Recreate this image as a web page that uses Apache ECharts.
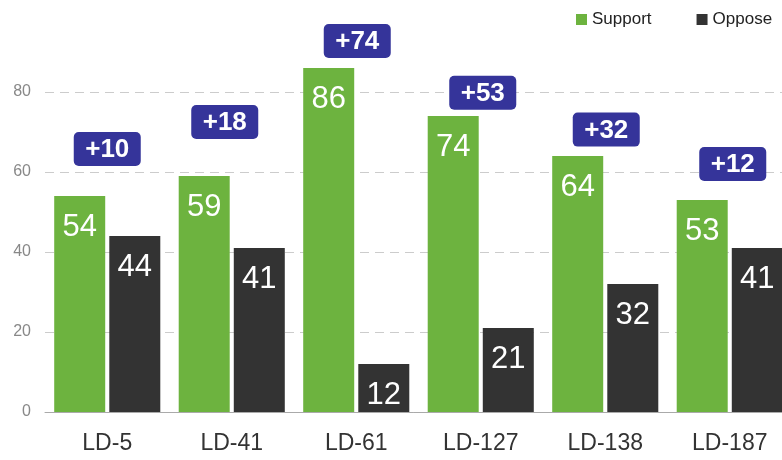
<!DOCTYPE html>
<html>
<head>
<meta charset="utf-8">
<script src="https://cdn.jsdelivr.net/npm/echarts@6/dist/echarts.min.js"></script>
<style>
  html, body { margin: 0; padding: 0; background: #fff; }
  #chart { width: 782px; height: 460px; }
</style>
</head>
<body>
<div id="chart"></div>
<script>
var districts = ['LD-5', 'LD-41', 'LD-61', 'LD-127', 'LD-138', 'LD-187'];
var supportVals = [54, 59, 86, 74, 64, 53];
var opposeVals = [44, 41, 12, 21, 32, 41];
// height (in axis units) at which each margin badge sits
var badgeLevels = [65.75, 72.5, 92.75, 79.8, 70.6, 62];
var yTicks = [0, 20, 40, 60, 80];

var font = 'Liberation Sans, Arial, sans-serif';
var badgeNudge = [0, -7, 1, 2, 1, 3];

var chart = echarts.init(document.getElementById('chart'));

var badgeData = badgeLevels.map(function (v, i) {
  return [i, v];
});

var option = {
  animation: false,
  color: ['#6db33f', '#333333'],
  textStyle: { fontFamily: font },
  legend: {
    left: 571,
    top: 6,
    itemWidth: 11,
    itemHeight: 11,
    itemGap: 45,
    icon: 'rect',
    textStyle: { fontSize: 17, color: '#222', fontFamily: font },
    data: ['Support', 'Oppose']
  },
  grid: {
    left: 45,
    right: -10,
    top: 12,
    bottom: 48,
    outerBoundsMode: 'none',
    containLabel: false
  },
  xAxis: {
    type: 'category',
    data: districts,
    axisLine: { lineStyle: { color: '#aaa' } },
    axisTick: { length: 6, lineStyle: { color: '#aaa' } },
    axisLabel: { fontSize: 23, color: '#333', margin: 20, fontFamily: font }
  },
  yAxis: {
    type: 'value',
    min: 0,
    max: 100,
    interval: 20,
    axisLine: { show: false },
    axisTick: { show: false },
    axisLabel: {
      fontSize: 16,
      color: '#888',
      margin: 14,
      fontFamily: font,
      formatter: function (v) {
        return yTicks.indexOf(v) >= 0 ? String(v) : '';
      }
    },
    splitLine: {
      lineStyle: {
        type: [9, 6],
        color: ['#ccc', '#ccc', '#ccc', '#ccc', '#ccc', 'transparent']
      }
    }
  },
  series: [
    {
      name: 'Support',
      type: 'bar',
      barWidth: 51,
      barGap: '8%',
      data: supportVals,
      label: {
        show: true,
        position: 'insideTop',
        distance: 16,
        color: '#fff',
        fontSize: 31,
        fontFamily: font
      }
    },
    {
      name: 'Oppose',
      type: 'bar',
      barWidth: 51,
      data: opposeVals,
      label: {
        show: true,
        position: 'insideTop',
        distance: 16,
        color: '#fff',
        fontSize: 31,
        fontFamily: font
      }
    },
    {
      name: 'Margin',
      type: 'custom',
      silent: true,
      data: badgeData,
      encode: { x: 0, y: 1 },
      renderItem: function (params, api) {
        var i = params.dataIndex;
        var p = api.coord([api.value(0), api.value(1)]);
        var cx = p[0] + badgeNudge[i];
        var diff = supportVals[i] - opposeVals[i];
        return {
          type: 'group',
          children: [
            {
              type: 'rect',
              shape: { x: cx - 33.5, y: p[1] - 17, width: 67, height: 34, r: 5 },
              style: { fill: '#35349a' }
            },
            {
              type: 'text',
              style: {
                text: (diff > 0 ? '+' : '') + diff,
                x: cx,
                y: p[1] + 1,
                align: 'center',
                verticalAlign: 'middle',
                fill: '#fff',
                fontSize: 26,
                fontWeight: 'bold',
                fontFamily: font
              }
            }
          ]
        };
      }
    }
  ]
};

chart.setOption(option);
</script>
</body>
</html>
